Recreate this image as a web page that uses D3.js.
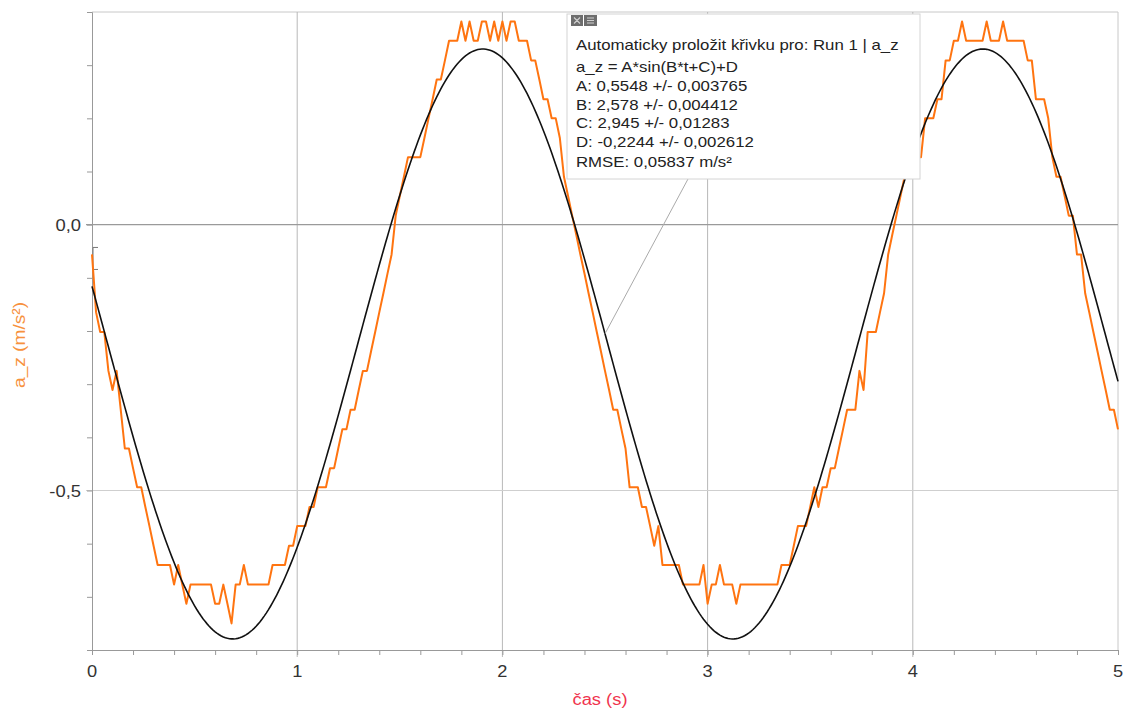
<!DOCTYPE html>
<html lang="cs">
  <head>
    <meta charset="UTF-8" />
    <title>a_z – sinusový fit</title>
    <style>
      body {
        margin: 0;
        background: #fff;
      }
      svg {
        display: block;
        font-family: 'Liberation Sans', Arial, sans-serif;
      }
    </style>
  </head>
  <body>
    <div id="main"></div>
    <script src="https://cdn.jsdelivr.net/npm/d3@7"></script>

    <script>
      const [width, height] = [1123, 709]

      // naměřená data a_z (m/s²), vzorkováno po 0,02 s
      const dt = 0.02
      const aZ = [
        -0.056, -0.165, -0.202, -0.202, -0.275, -0.311, -0.275, -0.348, -0.421, -0.421,
        -0.458, -0.494, -0.494, -0.531, -0.567, -0.604, -0.640, -0.640, -0.640, -0.640,
        -0.677, -0.640, -0.677, -0.713, -0.677, -0.677, -0.677, -0.677, -0.677, -0.677,
        -0.713, -0.713, -0.677, -0.713, -0.750, -0.677, -0.677, -0.640, -0.677, -0.677,
        -0.677, -0.677, -0.677, -0.677, -0.640, -0.640, -0.640, -0.640, -0.604, -0.604,
        -0.567, -0.567, -0.567, -0.531, -0.531, -0.494, -0.494, -0.494, -0.458, -0.458,
        -0.421, -0.385, -0.385, -0.348, -0.348, -0.311, -0.275, -0.275, -0.238, -0.202,
        -0.165, -0.129, -0.092, -0.056, 0.017, 0.054, 0.090, 0.127, 0.127, 0.127,
        0.127, 0.163, 0.200, 0.236, 0.273, 0.273, 0.309, 0.346, 0.346, 0.346,
        0.382, 0.346, 0.382, 0.346, 0.346, 0.382, 0.382, 0.346, 0.382, 0.346,
        0.382, 0.346, 0.382, 0.382, 0.346, 0.346, 0.346, 0.309, 0.309, 0.273,
        0.236, 0.236, 0.200, 0.200, 0.163, 0.090, 0.054, 0.017, -0.019, -0.056,
        -0.092, -0.129, -0.165, -0.202, -0.238, -0.275, -0.311, -0.348, -0.348, -0.385,
        -0.421, -0.494, -0.494, -0.494, -0.531, -0.531, -0.567, -0.604, -0.567, -0.640,
        -0.640, -0.640, -0.640, -0.640, -0.677, -0.677, -0.677, -0.677, -0.677, -0.640,
        -0.713, -0.677, -0.677, -0.640, -0.677, -0.677, -0.677, -0.713, -0.677, -0.677,
        -0.677, -0.677, -0.677, -0.677, -0.677, -0.677, -0.677, -0.677, -0.640, -0.640,
        -0.640, -0.604, -0.567, -0.567, -0.567, -0.531, -0.494, -0.531, -0.494, -0.494,
        -0.458, -0.458, -0.421, -0.385, -0.348, -0.348, -0.348, -0.275, -0.311, -0.202,
        -0.202, -0.202, -0.165, -0.129, -0.056, -0.019, 0.017, 0.054, 0.090, 0.090,
        0.127, 0.127, 0.127, 0.200, 0.200, 0.200, 0.236, 0.236, 0.309, 0.309,
        0.346, 0.346, 0.382, 0.346, 0.346, 0.346, 0.346, 0.346, 0.382, 0.346,
        0.346, 0.346, 0.382, 0.346, 0.346, 0.346, 0.346, 0.346, 0.309, 0.309,
        0.236, 0.236, 0.236, 0.200, 0.127, 0.090, 0.090, 0.054, 0.017, 0.017,
        -0.056, -0.056, -0.129, -0.165, -0.202, -0.238, -0.275, -0.311, -0.348, -0.348,
        -0.385
      ]

      // parametry fitu a_z = A*sin(B*t+C)+D
      const fitNames = ['A', 'B', 'C', 'D']
      const fitValues = [0.5548, 2.578, 2.945, -0.2244]
      const fitErrors = [0.003765, 0.004412, 0.01283, 0.002612]
      const rmse = 0.05837

      const xTicks = [0, 1, 2, 3, 4, 5]
      const yTicks = [0, -0.5]
      const xDomain = [0, 5]
      const yDomain = [-0.8, 0.4]

      const comma = v => String(v).replace('.', ',')

      const svg = d3
        .select('#main')
        .append('svg')
        .attr('width', width)
        .attr('height', height)
        .attr('viewBox', `0 0 ${width} ${height}`)

      const xScale = d3.scaleLinear().domain(xDomain).range([92, 1118])
      const yScale = d3.scaleLinear().domain(yDomain).range([650, 12])
      const [x0, x1] = xScale.range()
      const [y0, y1] = yScale.range()

      // rámeček
      svg
        .append('path')
        .attr('d', `M${x0},${y1}H${x1}V${y0}`)
        .attr('fill', 'none')
        .attr('stroke', '#c8c8c8')

      // svislá mřížka
      svg
        .append('g')
        .selectAll('line')
        .data(xTicks.filter(d => d > 0 && d < 5))
        .join('line')
        .attr('x1', d => xScale(d))
        .attr('x2', d => xScale(d))
        .attr('y1', y1)
        .attr('y2', y0 + 7)
        .attr('stroke', '#b8b8b8')

      // vodorovná mřížka
      svg
        .append('g')
        .selectAll('line')
        .data(yTicks)
        .join('line')
        .attr('x1', x0 - 6)
        .attr('x2', x1)
        .attr('y1', d => yScale(d))
        .attr('y2', d => yScale(d))
        .attr('stroke', d => (d === 0 ? '#9a9a9a' : '#cfcfcf'))
        .attr('stroke-width', d => (d === 0 ? 1.4 : 1.2))

      // osa x
      const xAxis = d3
        .axisBottom(xScale)
        .tickValues(d3.range(0, 5.001, 0.2))
        .tickSize(5)
        .tickFormat('')
      svg
        .append('g')
        .attr('transform', `translate(0, ${y0})`)
        .call(xAxis)
        .call(g => g.select('.domain').attr('stroke', '#999'))
        .call(g => g.selectAll('.tick line').attr('stroke', '#999'))

      svg
        .append('g')
        .selectAll('text')
        .data(xTicks)
        .join('text')
        .attr('transform', d => `translate(${xScale(d)}, 677) scale(1.14, 1)`)
        .attr('text-anchor', 'middle')
        .attr('fill', '#333')
        .style('font-size', '16px')
        .text(d => comma(d))

      // osa y
      const yAxis = d3
        .axisLeft(yScale)
        .tickValues(d3.range(-0.8, 0.401, 0.1))
        .tickSize(5)
        .tickFormat('')
      svg
        .append('g')
        .attr('transform', `translate(${x0}, 0)`)
        .call(yAxis)
        .call(g => g.select('.domain').attr('stroke', '#999'))
        .call(g => g.selectAll('.tick line').attr('stroke', '#999'))

      svg
        .append('g')
        .selectAll('text')
        .data(yTicks)
        .join('text')
        .attr('transform', d => `translate(81, ${yScale(d) + 6}) scale(1.15, 1)`)
        .attr('text-anchor', 'end')
        .attr('fill', '#333')
        .style('font-size', '16px')
        .text(d => d3.format('.1f')(d).replace('.', ',').replace('−', '-'))

      // značka začátku dat
      const t0y = yScale(aZ[0])
      svg
        .append('path')
        .attr('d', `M${x0 + 6},${t0y - 7}H${x0 + 1}V${t0y + 15}H${x0 + 6}`)
        .attr('fill', 'none')
        .attr('stroke', '#777')

      // naměřená křivka
      const measured = aZ.map((v, i) => [i * dt, v])
      const line = d3
        .line()
        .x(d => xScale(d[0]))
        .y(d => yScale(d[1]))

      svg
        .append('path')
        .datum(measured)
        .attr('d', line)
        .attr('fill', 'none')
        .attr('stroke', '#ff7410')
        .attr('stroke-width', 2)
        .attr('stroke-linejoin', 'round')

      // fit
      const [A, B, C, D] = fitValues
      const fitFn = t => A * Math.sin(B * t + C) + D
      const fitPts = d3.range(0, 5.0001, 0.01).map(t => [t, fitFn(t)])
      svg
        .append('path')
        .datum(fitPts)
        .attr('d', line)
        .attr('fill', 'none')
        .attr('stroke', '#111')
        .attr('stroke-width', 1.6)

      // popisky os
      svg
        .append('text')
        .attr('transform', 'translate(25, 345) rotate(-90)')
        .attr('text-anchor', 'middle')
        .attr('fill', '#f7913d')
        .attr('textLength', 86)
        .attr('lengthAdjust', 'spacingAndGlyphs')
        .style('font-size', '17px')
        .text('a_z (m/s²)')

      svg
        .append('text')
        .attr('x', 600)
        .attr('y', 705)
        .attr('text-anchor', 'middle')
        .attr('fill', '#f0344e')
        .attr('textLength', 55)
        .attr('lengthAdjust', 'spacingAndGlyphs')
        .style('font-size', '16px')
        .text('čas (s)')

      // okno s parametry fitu
      const box = { x: 567, y: 14, w: 353, h: 165 }
      const anchorT = 2.5
      svg
        .append('line')
        .attr('x1', xScale(anchorT))
        .attr('y1', yScale(fitFn(anchorT)))
        .attr('x2', 688)
        .attr('y2', box.y + box.h)
        .attr('stroke', '#aaa')

      svg
        .append('rect')
        .attr('x', box.x)
        .attr('y', box.y)
        .attr('width', box.w)
        .attr('height', box.h)
        .attr('fill', '#fff')
        .attr('stroke', '#d4d4d4')

      const icon = svg.append('g').attr('transform', `translate(${box.x + 4}, ${box.y + 1})`)
      icon.append('rect').attr('width', 12).attr('height', 11).attr('fill', '#6d6d6d')
      icon.append('rect').attr('x', 13).attr('width', 13).attr('height', 11).attr('fill', '#6d6d6d')
      icon
        .append('path')
        .attr('d', 'M3,2.5L9,8.5M9,2.5L3,8.5M16,3H23M16,5.5H23M16,8H23')
        .attr('stroke', '#cfcfcf')
        .attr('stroke-width', 1.2)

      const boxLines = [
        'Automaticky proložit křivku pro: Run 1 | a_z',
        'a_z = A*sin(B*t+C)+D',
        ...fitNames.map((n, i) => `${n}: ${comma(fitValues[i])} +/- ${comma(fitErrors[i])}`),
        `RMSE: ${comma(rmse)} m/s²`
      ]
      const boxBaselines = [50, 72, 91, 110, 128, 147, 167]

      svg
        .append('g')
        .attr('transform', `translate(${box.x + 9}, 0) scale(1.2, 1)`)
        .selectAll('text')
        .data(boxLines)
        .join('text')
        .attr('x', 0)
        .attr('y', (_, i) => boxBaselines[i])
        .attr('fill', '#222')
        .style('font-size', '14px')
        .text(d => d)
    </script>
  </body>
</html>
